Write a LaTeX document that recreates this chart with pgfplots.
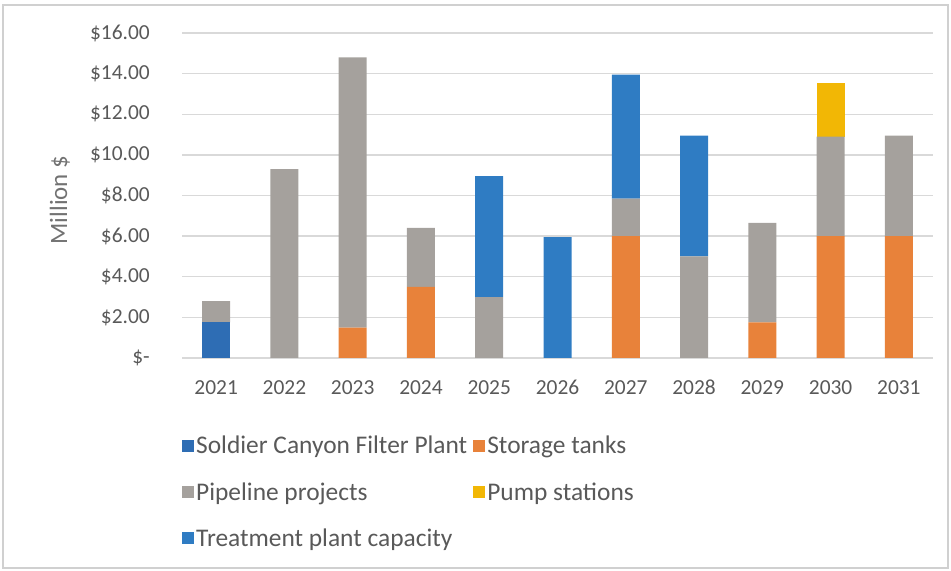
\documentclass[border=0pt]{standalone}
\usepackage{fontspec}
\setmainfont{Carlito}
\usepackage{pgfplots}
\pgfplotsset{compat=1.18}

\definecolor{scfp}{HTML}{2E6DB4}
\definecolor{storage}{HTML}{E8823A}
\definecolor{pipeline}{HTML}{A5A19D}
\definecolor{pump}{HTML}{F2B705}
\definecolor{treat}{HTML}{2F7CC3}
\definecolor{txt}{HTML}{595959}
\definecolor{gridc}{HTML}{D9D9D9}
\definecolor{framec}{HTML}{D0D0D0}

\begin{document}
\begin{tikzpicture}[x=1bp,y=1bp]
\path[use as bounding box] (0,0) rectangle (951,571);
\draw[framec, line width=1.2bp] (3,3) rectangle (948,566);
\begin{axis}[
  at={(182bp,213bp)}, anchor=south west,
  scale only axis, width=751bp, height=325bp,
  ybar stacked, bar width=28bp,
  xmin=-0.5, xmax=10.5, ymin=0, ymax=16,
  xtick={0,...,10},
  xticklabels={2021,2022,2023,2024,2025,2026,2027,2028,2029,2030,2031},
  ytick={0,2,...,16},
  yticklabels={\$-\hspace{7bp},\$2.00,\$4.00,\$6.00,\$8.00,\$10.00,\$12.00,\$14.00,\$16.00},
  ymajorgrids, grid style={gridc, line width=1.3bp},
  axis line style={draw=none}, major tick length=0pt,
  tick label style={font=\fontsize{21.5}{25}\selectfont, text=txt},
  yticklabel style={anchor=east, inner sep=0pt, xshift=-32bp},
  xticklabel style={anchor=north, inner sep=0pt, yshift=-22bp},
  ylabel={Million \$},
  ylabel style={at={(axis description cs:-0.1625,0.486)}, anchor=center,
    font=\fontsize{25}{30}\selectfont, text=txt!85},
  legend columns=2,
  legend cell align=left,
  legend style={at={(axis description cs:-0.004,-0.228)}, anchor=north west,
    draw=none, fill=none, text=txt, font=\fontsize{25.5}{30}\selectfont,
    row sep=23bp, /tikz/every even column/.append style={column sep=4bp}},
  legend image code/.code={\fill[#1] (0bp,-6bp) rectangle (12bp,6bp);},
]
% Soldier Canyon Filter Plant
\addplot[fill=scfp, draw=none] coordinates
  {(0,1.75) (1,0) (2,0) (3,0) (4,0) (5,0) (6,0) (7,0) (8,0) (9,0) (10,0)};
% Storage tanks
\addplot[fill=storage, draw=none] coordinates
  {(0,0) (1,0) (2,1.5) (3,3.5) (4,0) (5,0) (6,6.0) (7,0) (8,1.75) (9,6.0) (10,6.0)};
% Pipeline projects
\addplot[fill=pipeline, draw=none] coordinates
  {(0,1.05) (1,9.3) (2,13.3) (3,2.9) (4,3.0) (5,0) (6,1.85) (7,5.0) (8,4.9) (9,4.9) (10,4.95)};
% Pump stations
\addplot[fill=pump, draw=none] coordinates
  {(0,0) (1,0) (2,0) (3,0) (4,0) (5,0) (6,0) (7,0) (8,0) (9,2.65) (10,0)};
% Treatment plant capacity
\addplot[fill=treat, draw=none] coordinates
  {(0,0) (1,0) (2,0) (3,0) (4,5.95) (5,5.95) (6,6.1) (7,5.95) (8,0) (9,0) (10,0)};
\legend{Soldier Canyon Filter Plant, Storage tanks, Pipeline projects, Pump stations, Treatment plant capacity}
\end{axis}
\end{tikzpicture}
\end{document}
